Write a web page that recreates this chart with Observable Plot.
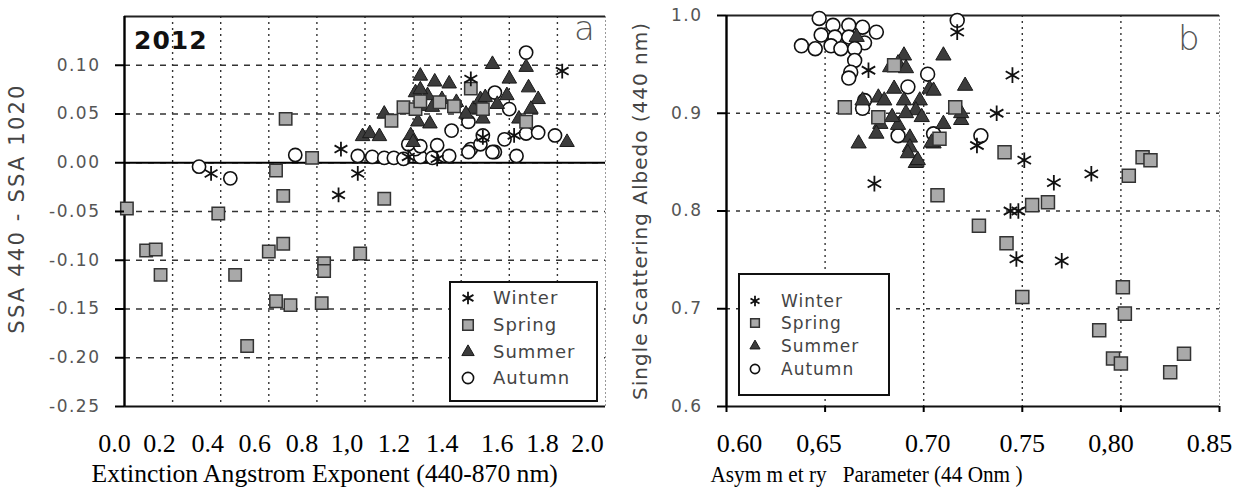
<!DOCTYPE html>
<html><head><meta charset="utf-8">
<script src="https://cdn.jsdelivr.net/npm/d3@7"></script>
<script src="https://cdn.jsdelivr.net/npm/@observablehq/plot@0.6"></script>
<style>
body{margin:0;background:#fff}
#wrap{position:relative;width:1240px;height:490px;overflow:hidden;background:#fff}
.panel{position:absolute;top:0}
.panel svg text{white-space:pre}
.legend{position:absolute;border:2px solid #111;background:#fff;box-sizing:border-box}
.legend .row{position:absolute;left:0;height:20px;font-family:"DejaVu Sans",sans-serif;color:#444;letter-spacing:1px;line-height:20px}
.legend svg{position:absolute;overflow:visible}
.note{position:absolute;font-family:"DejaVu Sans",sans-serif}
</style></head><body><div id="wrap"></div><script>
// ---------- data: panel a (Angstrom exponent vs SSA440 - SSA1020) ----------
const winterA = [[0.36,-0.011],[0.90,0.014],[0.97,-0.011],[0.89,-0.033],[1.18,0.006],[1.30,0.004],
  [1.44,0.086],[1.49,0.026],[1.62,0.028],[1.82,0.094]];
const springA = [[0.01,-0.047],[0.09,-0.090],[0.13,-0.089],[0.15,-0.115],[0.39,-0.052],[0.46,-0.115],
  [0.51,-0.188],[0.60,-0.091],[0.66,-0.083],[0.63,-0.142],[0.69,-0.146],[0.63,-0.008],[0.66,-0.034],
  [0.67,0.045],[0.78,0.005],[0.82,-0.144],[0.83,-0.103],[0.83,-0.111],[0.98,-0.093],[1.08,-0.037],
  [1.11,0.043],[1.16,0.057],[1.21,0.055],[1.23,0.063],[1.31,0.062],[1.37,0.058],[1.44,0.076],
  [1.49,0.055],[1.67,0.042]];
const summerA = [[0.99,0.027],[1.02,0.030],[1.06,0.027],[1.08,0.050],[1.19,0.028],[1.20,0.021],
  [1.22,0.042],[1.27,0.040],[1.23,0.089],[1.29,0.083],[1.35,0.081],[1.21,0.072],[1.26,0.069],
  [1.32,0.065],[1.23,0.058],[1.28,0.057],[1.38,0.062],[1.23,0.075],[1.45,0.055],[1.48,0.065],
  [1.49,0.045],[1.50,0.067],[1.53,0.101],[1.60,0.086],[1.67,0.098],[1.68,0.077],[1.59,0.069],
  [1.72,0.065],[1.69,0.055],[1.64,0.045],[1.84,0.021],[1.55,0.060],[1.42,0.050]];
const autumnA = [[0.31,-0.004],[0.44,-0.016],[0.71,0.008],[0.97,0.007],[1.03,0.006],[1.08,0.005],
  [1.12,0.005],[1.16,0.004],[1.23,0.006],[1.28,0.005],[1.35,0.007],[1.44,0.014],[1.54,0.011],
  [1.63,0.007],[1.21,0.014],[1.18,0.019],[1.23,0.017],[1.30,0.018],[1.36,0.033],[1.26,0.062],
  [1.43,0.042],[1.48,0.019],[1.43,0.011],[1.53,0.011],[1.49,0.028],[1.58,0.024],[1.54,0.072],
  [1.60,0.055],[1.67,0.113],[1.67,0.030],[1.72,0.031],[1.79,0.028]];
const ssaDiffTicks = [-0.25,-0.20,-0.15,-0.10,-0.05,0,0.05,0.10];
const ssaDiffLabels = ["-0.25","-0.20","-0.15","-0.10","-0.05","0.00","0.05","0.10"];
const aeTicks = [0,0.2,0.4,0.6,0.8,1.0,1.2,1.4,1.6,1.8,2.0];
const aeLabels = ["0.0","0.2","0.4","0.6","0.8","1,0","1.2","1.4","1.6","1.8","2.0"];

// ---------- data: panel b (asymmetry parameter vs SSA 440) ----------
const winterB = [[0.672,0.944],[0.675,0.828],[0.717,0.983],[0.745,0.939],[0.737,0.900],[0.727,0.867],
  [0.751,0.852],[0.766,0.829],[0.785,0.838],[0.744,0.800],[0.748,0.800],[0.747,0.751],[0.770,0.749]];
const springB = [[0.660,0.906],[0.677,0.896],[0.685,0.949],[0.716,0.906],[0.708,0.874],[0.741,0.860],
  [0.707,0.816],[0.728,0.785],[0.742,0.767],[0.755,0.806],[0.763,0.809],[0.804,0.836],[0.811,0.855],
  [0.815,0.852],[0.750,0.712],[0.801,0.722],[0.802,0.695],[0.789,0.678],[0.796,0.649],[0.800,0.644],
  [0.832,0.654],[0.825,0.635]];
const summerB = [[0.666,0.978],[0.690,0.959],[0.687,0.951],[0.683,0.947],[0.691,0.946],[0.710,0.959],
  [0.721,0.928],[0.703,0.925],[0.685,0.925],[0.677,0.916],[0.669,0.913],[0.680,0.913],[0.690,0.913],
  [0.698,0.913],[0.696,0.903],[0.699,0.896],[0.691,0.900],[0.678,0.889],[0.676,0.879],[0.687,0.888],
  [0.667,0.869],[0.693,0.875],[0.693,0.865],[0.692,0.859],[0.696,0.849],[0.710,0.889],[0.719,0.893],
  [0.719,0.900],[0.705,0.869],[0.705,0.923],[0.684,0.896],[0.697,0.852],[0.704,0.870]];
const autumnB = [[0.647,0.997],[0.654,0.990],[0.662,0.990],[0.669,0.988],[0.676,0.983],[0.648,0.980],
  [0.655,0.978],[0.662,0.978],[0.670,0.972],[0.638,0.969],[0.645,0.966],[0.653,0.969],[0.658,0.966],
  [0.665,0.966],[0.665,0.954],[0.663,0.942],[0.662,0.936],[0.670,0.913],[0.669,0.905],[0.687,0.877],
  [0.702,0.940],[0.692,0.927],[0.705,0.879],[0.717,0.995],[0.729,0.877]];
const ssaTicks = [0.6,0.7,0.8,0.9,1.0];
const ssaLabels = ["0.6","0.7","0.8","0.9","1.0"];
const gTicks = [0.60,0.65,0.70,0.75,0.80,0.85];
const gLabels = ["0.60","0,65","0.70","0.75","0,80","0.85"];

const seasons = ["Winter","Spring","Summer","Autumn"];
const yTitleA = "SSA 440 - SSA 1020";
const xTitleA = "Extinction Angstrom Exponent (440-870 nm)";
const yTitleB = "Single Scattering Albedo (440 nm)";
const xTitleB = "Asym m et ry   Parameter (44 Onm )";

// horizontal nudges (px) of the typed-in tick labels, as in the scan
const aeNudge = [-10,-13,-13,-14,-15,-18,-19,-19,-12,-15,-18];
const gNudge = [13,-6,4,0,-10,-10];

const rows = arr => arr.map(([x,y]) => ({x, y}));
const lab = (ticks, labels) => d => labels[ticks.indexOf(d)];

const sty = {
  Winter: {symbol:"asterisk", fill:"none", stroke:"#111", strokeWidth:1.8},
  Spring: {symbol:"square", fill:"#a9a9a9", stroke:"#333", strokeWidth:1.5},
  Summer: {symbol:"triangle", fill:"#3c3c3c", stroke:"#1a1a1a", strokeWidth:1},
  Autumn: {symbol:"circle", fill:"#fff", stroke:"#111", strokeWidth:1.6}
};
const rad = {Winter:7, Spring:7, Summer:5.4, Autumn:6.6};

function dots(series, rScale) {
  return seasons.slice().reverse().map(s =>
    Plot.dot(rows(series[s]), {x:"x", y:"y", r: rad[s]*rScale, ...sty[s]}));
}
function tickLabels(ticks, labels, nudge) {
  return ticks.map((t, i) => Plot.axisX([t], {tickFormat: lab(ticks, labels), tickSize:0, tickPadding:27,
    dx: nudge[i], fill:"#000", fontSize:26, fontFamily:"Liberation Serif", label:null}));
}

const wrap = document.getElementById("wrap");

// ---------- panel a ----------
const pa = Plot.plot({
  width:620, height:490, marginLeft:124, marginRight:15, marginTop:16, marginBottom:84,
  style:{background:"transparent", overflow:"visible"},
  x:{domain:[0,2]}, y:{domain:[-0.25,0.15]},
  marks:[
    Plot.gridY(ssaDiffTicks.slice(1), {stroke:"#333", strokeOpacity:1, strokeWidth:1.4, strokeDasharray:"6,6"}),
    Plot.gridX(aeTicks.slice(1,-1), {stroke:"#333", strokeOpacity:1, strokeWidth:1.4, strokeDasharray:"2,4"}),
    Plot.ruleX([2], {stroke:"#999", strokeWidth:1, strokeDasharray:"2,2"}),
    Plot.ruleY([0.15], {stroke:"#222", strokeWidth:2}),
    Plot.ruleY([0], {stroke:"#000", strokeWidth:2.2}),
    Plot.ruleY([-0.25], {stroke:"#111", strokeWidth:2.2}),
    Plot.ruleX([0], {stroke:"#000", strokeWidth:2.4}),
    ...dots({Winter:winterA, Spring:springA, Summer:summerA, Autumn:autumnA}, 1),
    Plot.axisY(ssaDiffTicks, {tickFormat: lab(ssaDiffTicks, ssaDiffLabels), tickSize:9, tickPadding:15,
      stroke:"#000", strokeWidth:2, fill:"#555", fontSize:17, fontFamily:"DejaVu Sans", label:null}),
    ...tickLabels(aeTicks, aeLabels, aeNudge),
    Plot.text([yTitleA], {text:d=>d, frameAnchor:"left", textAnchor:"middle", rotate:-90, dx:-107, dy:-3,
      fontSize:21, fontFamily:"DejaVu Sans", fill:"#444"}),
    Plot.text([xTitleA], {text:d=>d, frameAnchor:"bottom-left",
      textAnchor:"start", dx:-33, dy:75, fontSize:25.6, fontFamily:"Liberation Serif", fill:"#000"})
  ]
});
const da = document.createElement("div"); da.className="panel"; da.style.left="0px"; da.appendChild(pa); wrap.appendChild(da);

// ---------- panel b ----------
const pb = Plot.plot({
  width:620, height:490, marginLeft:106, marginRight:21, marginTop:15, marginBottom:84,
  style:{background:"transparent", overflow:"visible"},
  x:{domain:[0.6,0.85]}, y:{domain:[0.6,1.0]},
  marks:[
    Plot.gridY(ssaTicks.slice(1,-1), {stroke:"#333", strokeOpacity:1, strokeWidth:1.3, strokeDasharray:"4,6"}),
    Plot.gridX(gTicks.slice(1,-1), {stroke:"#333", strokeOpacity:1, strokeWidth:1.4, strokeDasharray:"2,4"}),
    Plot.ruleX([0.85], {stroke:"#999", strokeWidth:1, strokeDasharray:"2,2"}),
    Plot.ruleY([1.0], {stroke:"#222", strokeWidth:2}),
    Plot.ruleY([0.6], {stroke:"#111", strokeWidth:2.2}),
    Plot.ruleX([0.6], {stroke:"#000", strokeWidth:2.4}),
    ...dots({Winter:winterB, Spring:springB, Summer:summerB, Autumn:autumnB}, 1.05),
    Plot.axisY(ssaTicks, {tickFormat: lab(ssaTicks, ssaLabels), tickSize:9, tickPadding:15,
      stroke:"#000", strokeWidth:2, fill:"#555", fontSize:17, fontFamily:"DejaVu Sans", label:null}),
    Plot.axisX(gTicks, {tickFormat: () => "", tickSize:6, stroke:"#000", strokeWidth:2, label:null}),
    ...tickLabels(gTicks, gLabels, gNudge),
    Plot.text([yTitleB], {text:d=>d, frameAnchor:"left", textAnchor:"middle", rotate:-90, dx:-86,
      fontSize:20, fontFamily:"DejaVu Sans", fill:"#444"}),
    Plot.text([xTitleB], {text:d=>d, frameAnchor:"bottom-left",
      textAnchor:"start", dx:-16, dy:75, fontSize:23, fontFamily:"Liberation Serif", fill:"#000"})
  ]
});
const db = document.createElement("div"); db.className="panel"; db.style.left="620px"; db.appendChild(pb); wrap.appendChild(db);

// letter spacing of the scanned sans labels
d3.selectAll('g[aria-label="y-axis tick label"]').style("letter-spacing","1.5px");
d3.selectAll("svg text").filter(function(){ return this.textContent === yTitleA; }).style("letter-spacing","2.2px");
d3.selectAll("svg text").filter(function(){ return this.textContent === yTitleB; }).style("letter-spacing","1px");
d3.selectAll("svg text").filter(function(){ return this.textContent === xTitleB; })
  .attr("textLength", 312).attr("lengthAdjust", "spacingAndGlyphs");

// ---------- legends ----------
function legend(left, top, w, h, rowTops, symX, textX, fs, scale) {
  const box = document.createElement("div");
  box.className = "legend";
  Object.assign(box.style, {left:left+"px", top:top+"px", width:w+"px", height:h+"px"});
  seasons.forEach((s, i) => {
    const row = document.createElement("div");
    row.className = "row";
    row.style.top = (rowTops[i]-10)+"px";
    row.style.fontSize = fs+"px";
    const sv = d3.create("svg").attr("width",20).attr("height",20)
      .style("left",(symX-10)+"px").style("top","0px");
    const symType = {asterisk:d3.symbolAsterisk, square:d3.symbolSquare, triangle:d3.symbolTriangle, circle:d3.symbolCircle}[sty[s].symbol];
    const r = rad[s]*scale;
    sv.append("path").attr("transform","translate(10,10)")
      .attr("d", d3.symbol(symType, Math.PI*r*r)())
      .attr("fill", sty[s].fill).attr("stroke", sty[s].stroke).attr("stroke-width", sty[s].strokeWidth);
    row.appendChild(sv.node());
    const t = document.createElement("span");
    t.textContent = s; t.style.position="absolute"; t.style.left=textX+"px"; t.style.whiteSpace="nowrap";
    row.appendChild(t);
    box.appendChild(row);
  });
  wrap.appendChild(box);
}
legend(449, 281, 149, 121, [15, 42, 69, 95], 17, 42, 18, 0.85);
legend(738, 273, 152, 123, [26, 48, 71, 94], 15, 41, 17, 0.7);

// ---------- panel annotations ----------
function note(txt, left, top, css) {
  const d = document.createElement("div"); d.className="note"; d.textContent = txt;
  Object.assign(d.style, {left:left+"px", top:top+"px"}, css); wrap.appendChild(d);
}
note("2012", 134, 26, {fontSize:"25px", fontWeight:"bold", color:"#111", letterSpacing:"1px"});
note("a", 574, 8, {fontSize:"34px", color:"#555", fontWeight:"300"});
note("b", 1178, 18, {fontSize:"34px", color:"#555", fontWeight:"300"});
</script></body></html>
